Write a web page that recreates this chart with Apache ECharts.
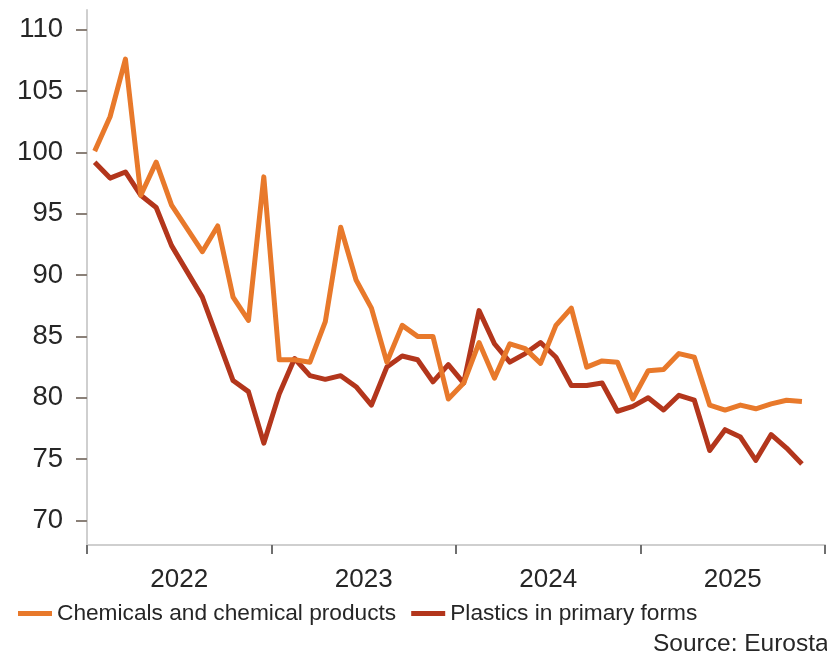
<!DOCTYPE html>
<html>
<head>
<meta charset="utf-8">
<script src="https://cdn.jsdelivr.net/npm/echarts@6/dist/echarts.min.js"></script>
<style>html,body{margin:0;padding:0;background:#fff;}#c{width:827px;height:656px;}</style>
</head>
<body>
<div id="c"></div>
<script>
const years = ['2022', '2023', '2024', '2025'];
const yTicks = [70, 75, 80, 85, 90, 95, 100, 105, 110];
const seriesNames = ['Chemicals and chemical products', 'Plastics in primary forms'];
// monthly index values, Jan 2022 .. Nov 2025
const chemicals = [
  100.1, 102.9, 107.6, 96.5, 99.2, 95.7, 93.8, 91.9, 94.0, 88.2, 86.3, 98.0,
  83.1, 83.1, 82.9, 86.2, 93.9, 89.6, 87.3, 82.9, 85.9, 85.0, 85.0, 79.9,
  81.2, 84.5, 81.6, 84.4, 84.0, 82.8, 85.9, 87.3, 82.5, 83.0, 82.9, 79.9,
  82.2, 82.3, 83.6, 83.3, 79.4, 79.0, 79.4, 79.1, 79.5, 79.8, 79.7
];
const plastics = [
  99.2, 97.9, 98.4, 96.5, 95.5, 92.4, 90.3, 88.2, 84.8, 81.4, 80.5, 76.3,
  80.3, 83.2, 81.8, 81.5, 81.8, 80.9, 79.4, 82.5, 83.4, 83.1, 81.3, 82.7,
  81.2, 87.1, 84.4, 82.9, 83.6, 84.5, 83.3, 81.0, 81.0, 81.2, 78.9, 79.3,
  80.0, 79.0, 80.2, 79.8, 75.7, 77.4, 76.8, 74.9, 77.0, 75.9, 74.6
];

const toPoints = arr => arr.map((v, i) => [i + 0.5, v]);
const yearStarts = years.map((y, i) => i * 12).concat([years.length * 12]);
const yearMids = years.map((y, i) => i * 12 + 6);

const chart = echarts.init(document.getElementById('c'), null, {renderer: 'canvas'});
const font = '"Liberation Sans", Arial, sans-serif';
chart.setOption({
  animation: false,
  backgroundColor: '#ffffff',
  grid: {left: 87, right: 2, top: 10, bottom: 111, containLabel: false},
  xAxis: {
    type: 'value',
    min: 0,
    max: years.length * 12,
    axisLine: {show: true, lineStyle: {color: '#cfcfcf', width: 2}},
    axisTick: {show: true, customValues: yearStarts, length: 9, lineStyle: {color: '#6f6f6f', width: 2}},
    axisLabel: {
      customValues: yearMids,
      formatter: v => years[Math.round((v - 6) / 12)] || '',
      fontSize: 26, color: '#262626', fontFamily: font, margin: 22
    },
    splitLine: {show: false}
  },
  yAxis: {
    type: 'value',
    min: 68,
    max: 111.6,
    axisLine: {show: true, lineStyle: {color: '#cfcfcf', width: 2}},
    axisTick: {show: true, customValues: yTicks, length: 11, lineStyle: {color: '#8a8078', width: 2}},
    axisLabel: {customValues: yTicks, fontSize: 27.5, color: '#262626', fontFamily: font, margin: 24},
    splitLine: {show: false}
  },
  legend: {
    left: 13, top: 597,
    icon: 'rect', itemWidth: 34, itemHeight: 5, itemGap: 15,
    textStyle: {fontSize: 22.7, color: '#262626', fontFamily: font},
    data: seriesNames
  },
  graphic: [{
    type: 'text', left: 653, top: 632,
    style: {text: 'Source: Eurostat', fontSize: 24.5, fill: '#262626', fontFamily: font}
  }],
  series: [
    {name: seriesNames[0], type: 'line', data: toPoints(chemicals), symbol: 'none',
     itemStyle: {color: '#E8792B'}, lineStyle: {color: '#E8792B', width: 5, join: 'round'}, z: 3},
    {name: seriesNames[1], type: 'line', data: toPoints(plastics), symbol: 'none',
     itemStyle: {color: '#B3361C'}, lineStyle: {color: '#B3361C', width: 5, join: 'round'}, z: 2}
  ]
});
</script>
</body>
</html>
